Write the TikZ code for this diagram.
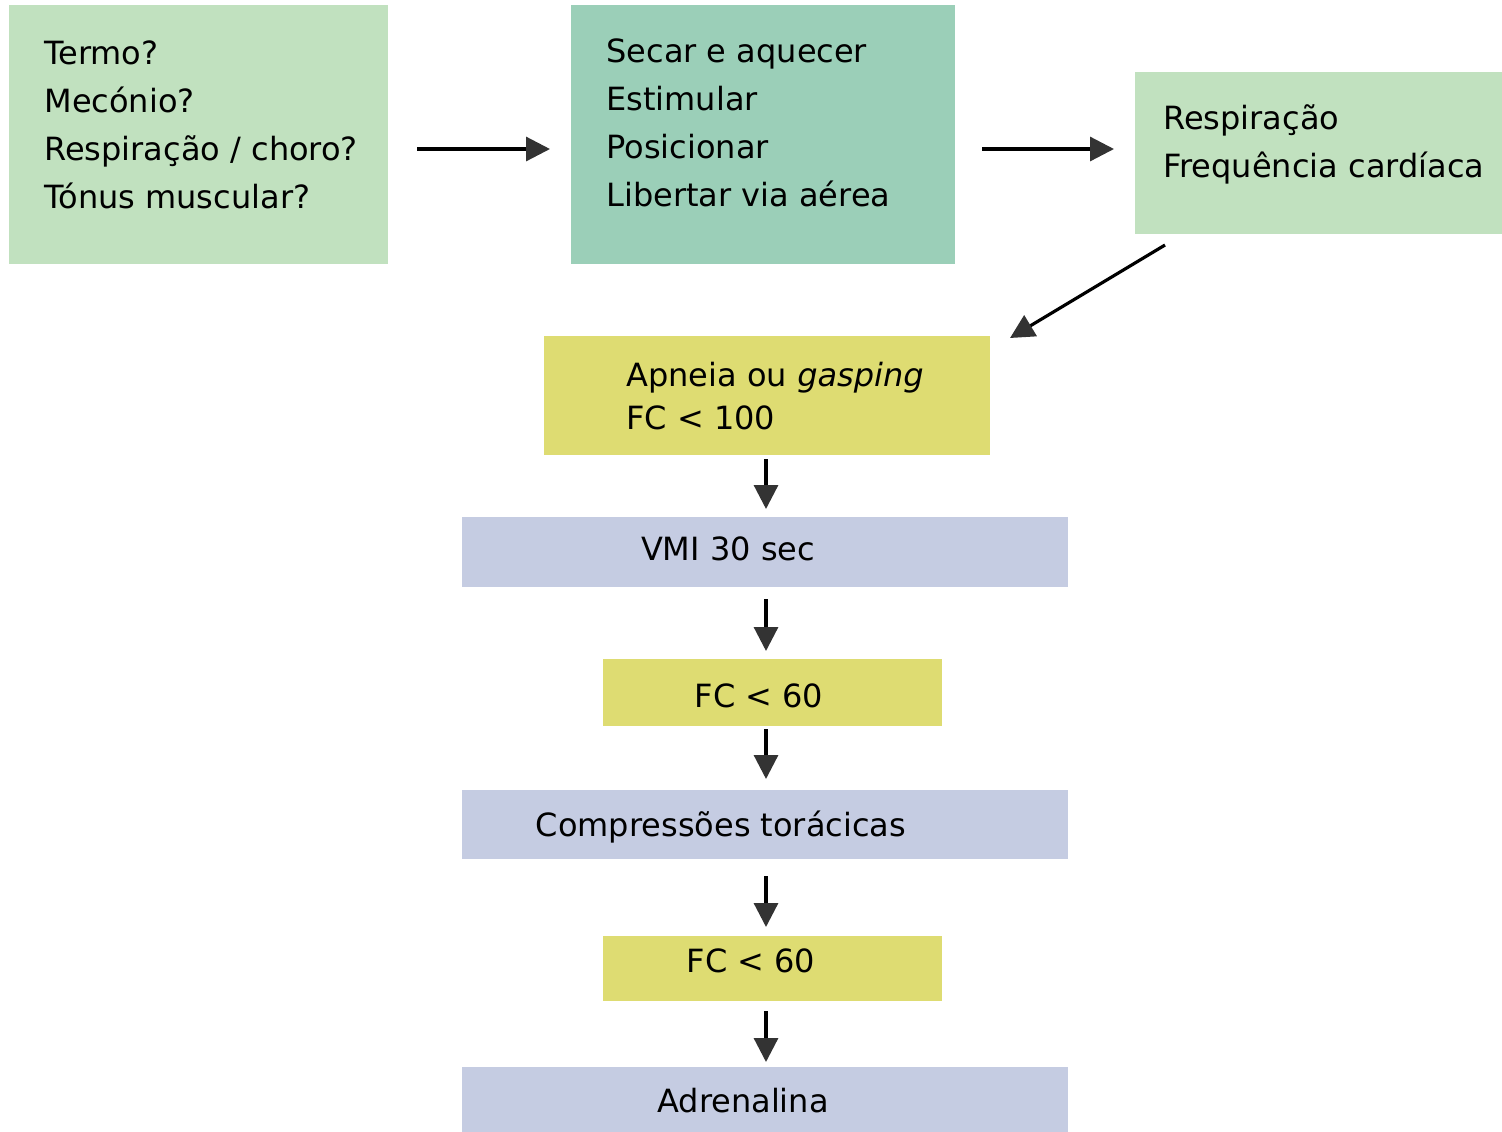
\documentclass[tikz,border=0pt]{standalone}
\usepackage{fontspec}
\setmainfont{DejaVu Sans}
\usetikzlibrary{arrows.meta}
\definecolor{lgreen}{RGB}{193,225,191}
\definecolor{teal}{RGB}{155,207,184}
\definecolor{yel}{RGB}{222,220,114}
\definecolor{lav}{RGB}{197,204,226}
\definecolor{tipgray}{RGB}{51,51,51}
\begin{document}
\begin{tikzpicture}[x=0.5pt,y=-0.5pt,
  box/.style={draw=none,inner sep=0pt,anchor=north west},
  txt/.style={inner sep=0pt,font=\fontsize{16pt}{24pt}\selectfont},
  lt/.style={txt,anchor=base west},
  ct/.style={txt,anchor=base},
  arr/.style={line width=1.6pt,black,-{Triangle[length=12pt,width=12pt,color=tipgray]}}]
\useasboundingbox (0,0) rectangle (1502,1131);
% boxes
\node[box,fill=lgreen,minimum width=189.5pt,minimum height=129.5pt] (b1) at (9,5) {};
\node[box,fill=teal,minimum width=192pt,minimum height=129.5pt] (b2) at (571,5) {};
\node[box,fill=lgreen,minimum width=183.5pt,minimum height=81pt] (b3) at (1135,72) {};
\node[box,fill=yel,minimum width=223pt,minimum height=59.5pt] (b4) at (544,336) {};
\node[box,fill=lav,minimum width=303pt,minimum height=35pt] (b5) at (462,517) {};
\node[box,fill=yel,minimum width=169.5pt,minimum height=33.5pt] (b6) at (603,659) {};
\node[box,fill=lav,minimum width=303pt,minimum height=34.5pt] (b7) at (462,790) {};
\node[box,fill=yel,minimum width=169.5pt,minimum height=32.5pt] (b8) at (603,936) {};
\node[box,fill=lav,minimum width=303pt,minimum height=33pt] (b9) at (462,1067) {};
% texts
\node[lt] (t1a) at (44,64) {Termo?};
\node[lt] (t1b) at (44,112) {Mecónio?};
\node[lt] (t1c) at (44,160) {Respiração / choro?};
\node[lt] (t1d) at (44,208) {Tónus muscular?};
\node[lt] (t2a) at (606,62) {Secar e aquecer};
\node[lt] (t2b) at (606,110) {Estimular};
\node[lt] (t2c) at (606,158) {Posicionar};
\node[lt] (t2d) at (606,206) {Libertar via aérea};
\node[lt] (t3a) at (1163,129) {Respiração};
\node[lt] (t3b) at (1163,177) {Frequência cardíaca};
\node[lt] (t4a) at (626,386) {Apneia ou \textit{gasping}};
\node[lt] (t4b) at (626,429) {FC < 100};
\node[ct] (t5) at (728,560) {VMI 30 sec};
\node[ct] (t6) at (759,707) {FC < 60};
\node[ct] (t7) at (721,836) {Compressões torácicas};
\node[ct] (t8) at (751,972) {FC < 60};
\node[ct] (t9) at (743,1112) {Adrenalina};
% arrow endpoints
\coordinate (a1s) at (417,149); \coordinate (a1e) at (550,149);
\coordinate (a2s) at (982,149); \coordinate (a2e) at (1114,149);
\coordinate (a3s) at (1165,245); \coordinate (a3e) at (1010,338);
\coordinate (a4s) at (766,459); \coordinate (a4e) at (766,509);
\coordinate (a5s) at (766,599); \coordinate (a5e) at (766,651);
\coordinate (a6s) at (766,729); \coordinate (a6e) at (766,779);
\coordinate (a7s) at (766,876); \coordinate (a7e) at (766,927);
\coordinate (a8s) at (766,1011); \coordinate (a8e) at (766,1062);
\draw[arr] (a1s) -- (a1e);
\draw[arr] (a2s) -- (a2e);
\draw[arr] (a3s) -- (a3e);
\draw[arr] (a4s) -- (a4e);
\draw[arr] (a5s) -- (a5e);
\draw[arr] (a6s) -- (a6e);
\draw[arr] (a7s) -- (a7e);
\draw[arr] (a8s) -- (a8e);
\end{tikzpicture}
\end{document}
